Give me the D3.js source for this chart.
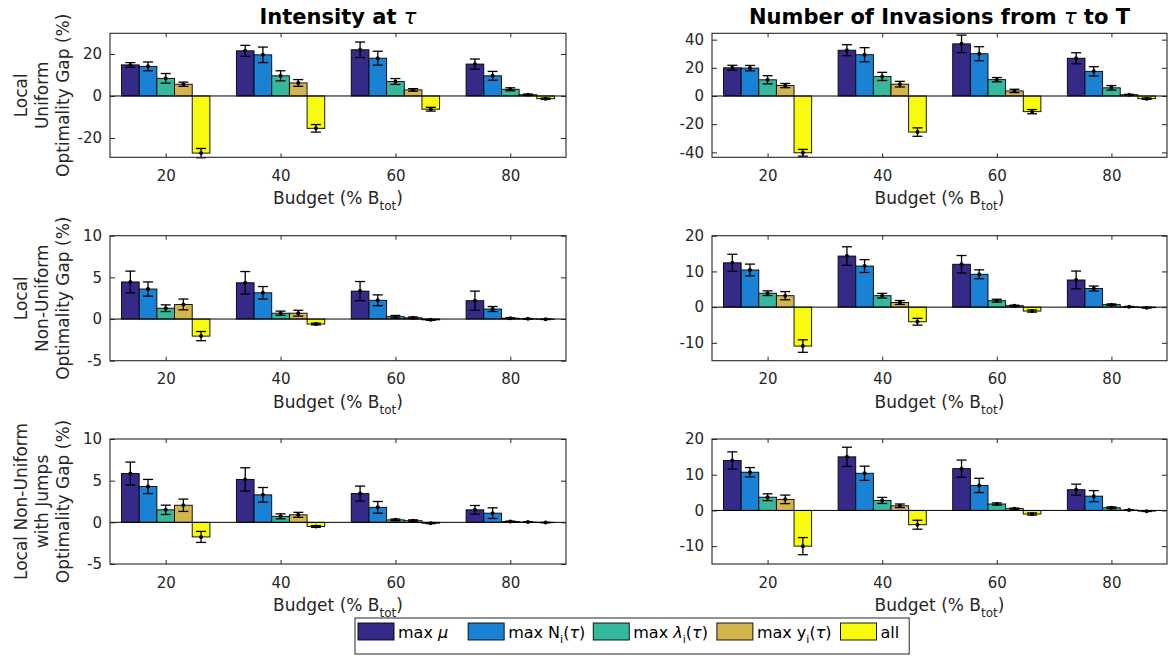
<!DOCTYPE html>
<html><head><meta charset="utf-8">
<script src="https://cdn.jsdelivr.net/npm/d3@7"></script>
<style>
body{margin:0;background:#fff;}
text{font-family:"DejaVu Sans",sans-serif;}
</style>
</head><body>
<svg id="chart" width="1172" height="658"></svg>
<script>
// ---------------- DATA ----------------
const budgets = [20, 40, 60, 80];
const seriesKeys = ["max μ", "max Ni(τ)", "max λi(τ)", "max yi(τ)", "all"];
const seriesColors = ["#352A87", "#1A82D4", "#36B89D", "#D4B44F", "#F9FB0E"];
const columnTitles = ["Intensity at ", "Number of Invasions from "];
const rowLabels = [
  ["Local", "Uniform", "Optimality Gap (%)"],
  ["Local", "Non-Uniform", "Optimality Gap (%)"],
  ["Local Non-Uniform", "with Jumps", "Optimality Gap (%)"]
];
const xTicks = [20, 40, 60, 80];
const yTicksIntensityUniform = [-20, 0, 20];
const yTicksInvasionsUniform = [-40, -20, 0, 20, 40];
const yTicksIntensityNonUniform = [-5, 0, 5, 10];
const yTicksInvasionsNonUniform = [-10, 0, 10, 20];

// rows = series (max mu, max N, max lambda, max y, all); columns = budgets
const intensityUniform = [
  [14.8, 21.5, 22.0, 15.2],
  [14.1, 19.6, 18.0, 9.6],
  [8.4, 9.6, 6.9, 3.2],
  [5.6, 6.2, 2.9, 0.6],
  [-27.2, -15.4, -6.3, -1.3]
];
const intensityUniformErr = [
  [1.1, 2.6, 3.7, 2.4],
  [2.1, 3.7, 3.3, 2.1],
  [2.3, 2.4, 1.4, 0.7],
  [1.0, 1.6, 0.6, 0.3],
  [2.2, 1.8, 0.9, 0.3]
];
const invasionsUniform = [
  [20.0, 32.5, 37.0, 26.8],
  [19.8, 29.3, 30.0, 17.5],
  [11.5, 13.9, 11.6, 5.8],
  [7.4, 8.4, 3.6, 0.9],
  [-40.3, -25.6, -11.1, -1.9]
];
const invasionsUniformErr = [
  [1.8, 3.9, 6.2, 3.9],
  [1.9, 5.0, 5.0, 3.3],
  [2.9, 2.9, 1.5, 1.6],
  [1.5, 2.0, 1.2, 0.3],
  [2.4, 3.0, 1.5, 0.5]
];
const intensityNonUniform = [
  [4.45, 4.35, 3.35, 2.2],
  [3.6, 3.15, 2.25, 1.2],
  [1.3, 0.7, 0.28, 0.1],
  [1.75, 0.7, 0.15, 0.03],
  [-2.05, -0.6, -0.1, -0.03]
];
const intensityNonUniformErr = [
  [1.3, 1.35, 1.15, 1.15],
  [0.85, 0.75, 0.65, 0.3],
  [0.4, 0.25, 0.15, 0.05],
  [0.65, 0.35, 0.1, 0.03],
  [0.55, 0.1, 0.05, 0.03]
];
const invasionsNonUniform = [
  [12.4, 14.3, 12.0, 7.6],
  [10.4, 11.5, 9.2, 5.2],
  [3.9, 3.2, 1.8, 0.7],
  [3.2, 1.3, 0.4, 0.1],
  [-10.9, -4.1, -1.1, -0.15]
];
const invasionsNonUniformErr = [
  [2.4, 2.6, 2.45, 2.5],
  [1.65, 1.8, 1.25, 0.7],
  [0.65, 0.65, 0.4, 0.2],
  [1.15, 0.55, 0.15, 0.1],
  [1.75, 0.95, 0.3, 0.1]
];
const intensityJumps = [
  [5.85, 5.15, 3.45, 1.5],
  [4.3, 3.3, 1.8, 1.1],
  [1.5, 0.72, 0.3, 0.1],
  [2.05, 0.9, 0.2, 0.03],
  [-1.75, -0.5, -0.1, -0.03]
];
const intensityJumpsErr = [
  [1.38, 1.4, 0.9, 0.52],
  [0.85, 0.88, 0.7, 0.64],
  [0.56, 0.3, 0.1, 0.05],
  [0.74, 0.3, 0.1, 0.03],
  [0.66, 0.1, 0.05, 0.03]
];
const invasionsJumps = [
  [14.0, 15.0, 11.7, 5.8],
  [10.7, 10.4, 7.0, 4.0],
  [3.7, 2.8, 1.8, 0.75],
  [3.1, 1.3, 0.5, 0.1],
  [-10.0, -4.0, -1.0, -0.2]
];
const invasionsJumpsErr = [
  [2.4, 2.7, 2.4, 1.55],
  [1.3, 2.0, 2.0, 1.55],
  [0.95, 0.85, 0.3, 0.25],
  [1.2, 0.5, 0.15, 0.1],
  [2.4, 1.25, 0.3, 0.1]
];

// ---------------- LAYOUT ----------------
const svg = d3.select("#chart");
const AX = "#262626";
const colX = [[110, 566], [712, 1167]];
const rowY = [[33.3, 157.3], [235.7, 360.7], [439, 564]];
const xDomain = [10.3, 89.7];

const panels = [
  {r: 0, c: 0, vals: intensityUniform, errs: intensityUniformErr, ydom: [-29.2, 29.85], yticks: yTicksIntensityUniform},
  {r: 0, c: 1, vals: invasionsUniform, errs: invasionsUniformErr, ydom: [-43.5, 44.5], yticks: yTicksInvasionsUniform},
  {r: 1, c: 0, vals: intensityNonUniform, errs: intensityNonUniformErr, ydom: [-5, 10], yticks: yTicksIntensityNonUniform},
  {r: 1, c: 1, vals: invasionsNonUniform, errs: invasionsNonUniformErr, ydom: [-15, 20], yticks: yTicksInvasionsNonUniform},
  {r: 2, c: 0, vals: intensityJumps, errs: intensityJumpsErr, ydom: [-5, 10], yticks: yTicksIntensityNonUniform},
  {r: 2, c: 1, vals: invasionsJumps, errs: invasionsJumpsErr, ydom: [-15, 20], yticks: yTicksInvasionsNonUniform}
];

const nS = seriesKeys.length;
const barW = 20 * Math.min(0.8, nS / (nS + 1.5)) / nS;

function fmt(d) { return String(d); }

panels.forEach(p => {
  const [x0, x1] = colX[p.c];
  const [y0, y1] = rowY[p.r];
  const x = d3.scaleLinear().domain(xDomain).range([x0, x1]);
  const y = d3.scaleLinear().domain(p.ydom).range([y1, y0]);
  const g = svg.append("g");

  // bars
  p.vals.forEach((row, s) => {
    g.selectAll(null).data(row).enter().append("rect")
      .attr("x", (v, i) => x(budgets[i] + (s - nS / 2) * barW))
      .attr("width", (v, i) => x(budgets[i] + (s - nS / 2 + 1) * barW) - x(budgets[i] + (s - nS / 2) * barW))
      .attr("y", v => Math.min(y(v), y(0)))
      .attr("height", v => Math.abs(y(v) - y(0)))
      .attr("fill", seriesColors[s])
      .attr("stroke", "#000")
      .attr("stroke-width", 0.9);
  });

  // baseline
  g.append("line").attr("x1", x0).attr("x2", x1).attr("y1", y(0)).attr("y2", y(0))
    .attr("stroke", "#000").attr("stroke-width", 1);

  // error bars
  p.vals.forEach((row, s) => {
    row.forEach((v, i) => {
      const cx = x(budgets[i] + (s - nS / 2 + 0.5) * barW);
      const e = p.errs[s][i];
      const eg = g.append("g").attr("stroke", "#000").attr("stroke-width", 1.3);
      eg.append("line").attr("x1", cx).attr("x2", cx).attr("y1", y(v - e)).attr("y2", y(v + e));
      eg.append("line").attr("x1", cx - 5).attr("x2", cx + 5).attr("y1", y(v - e)).attr("y2", y(v - e));
      eg.append("line").attr("x1", cx - 5).attr("x2", cx + 5).attr("y1", y(v + e)).attr("y2", y(v + e));
      g.append("circle").attr("cx", cx).attr("cy", y(v)).attr("r", 2).attr("fill", "#000");
    });
  });

  // axes
  const styleAxis = sel => {
    sel.select(".domain").remove();
    sel.selectAll("line").attr("stroke", AX);
    sel.selectAll("text").attr("fill", AX).style("font-size", "15px").style("font-family", "DejaVu Sans");
  };
  g.append("g").attr("transform", `translate(0,${y1})`)
    .call(d3.axisBottom(x).tickValues(xTicks).tickFormat(fmt).tickSizeInner(-4).tickSizeOuter(0).tickPadding(13))
    .call(styleAxis);
  g.append("g").attr("transform", `translate(0,${y0})`)
    .call(d3.axisTop(x).tickValues(xTicks).tickFormat("").tickSizeInner(-4).tickSizeOuter(0))
    .call(styleAxis);
  g.append("g").attr("transform", `translate(${x0},0)`)
    .call(d3.axisLeft(y).tickValues(p.yticks).tickFormat(fmt).tickSizeInner(-5).tickSizeOuter(0).tickPadding(8))
    .call(styleAxis);
  g.append("g").attr("transform", `translate(${x1},0)`)
    .call(d3.axisRight(y).tickValues(p.yticks).tickFormat("").tickSizeInner(-5).tickSizeOuter(0))
    .call(styleAxis);
  g.append("rect").attr("x", x0).attr("y", y0).attr("width", x1 - x0).attr("height", y1 - y0)
    .attr("fill", "none").attr("stroke", AX).attr("stroke-width", 1.1);

  // x label
  const xl = g.append("text").attr("x", (x0 + x1) / 2).attr("y", y1 + 47)
    .attr("text-anchor", "middle").attr("fill", AX).style("font-size", "17px");
  xl.append("tspan").text("Budget (% B");
  xl.append("tspan").attr("dy", 6).style("font-size", "12px").text("tot");
  xl.append("tspan").attr("dy", -6).text(")");

  // y label (left column only)
  if (p.c === 0) {
    const cy = (y0 + y1) / 2;
    const xs = [21, 42, 63];
    rowLabels[p.r].forEach((t, k) => {
      g.append("text").attr("transform", `translate(${xs[k]},${cy}) rotate(-90)`)
        .attr("text-anchor", "middle").attr("dy", "0.36em").attr("fill", AX)
        .style("font-size", "17px").text(t);
    });
  }

  // titles
  if (p.r === 0) {
    const t = g.append("text").attr("x", (x0 + x1) / 2).attr("y", 24).attr("text-anchor", "middle")
      .attr("fill", "#000").style("font-size", "21px").style("font-weight", "bold");
    t.append("tspan").text(columnTitles[p.c]);
    t.append("tspan").style("font-style", "italic").style("font-weight", "normal").text("τ");
    if (p.c === 1) t.append("tspan").text(" to T");
  }
});

// ---------------- LEGEND ----------------
const lg = svg.append("g");
const legBox = lg.append("rect").attr("x", 355).attr("y", 618).attr("width", 575).attr("height", 36)
  .attr("fill", "#fff").attr("stroke", AX).attr("stroke-width", 1);
const gaps = [0, 20, 8, 9, 9];
let cursor = 358;
seriesKeys.forEach((k, s) => {
  cursor += gaps[s];
  lg.append("rect").attr("x", cursor).attr("y", 623).attr("width", 36).attr("height", 17)
    .attr("fill", seriesColors[s]).attr("stroke", "#000").attr("stroke-width", 0.9);
  const t = lg.append("text").attr("x", cursor + 40).attr("y", 638).attr("fill", "#000").style("font-size", "16px");
  if (s === 0) {
    t.append("tspan").text("max ");
    t.append("tspan").style("font-style", "italic").text("μ");
  } else if (s === 4) {
    t.append("tspan").text("all");
  } else {
    const sym = k.slice(4, 5);
    t.append("tspan").text("max ");
    t.append("tspan").style("font-style", s === 2 ? "italic" : "normal").text(sym);
    t.append("tspan").attr("dy", 5).style("font-size", "11px").text("i");
    t.append("tspan").attr("dy", -5).text("(");
    t.append("tspan").style("font-style", "italic").text("τ");
    t.append("tspan").text(")");
  }
  cursor = cursor + 40 + t.node().getComputedTextLength();
});
legBox.attr("width", cursor + 10 - 355);
</script>
</body></html>
